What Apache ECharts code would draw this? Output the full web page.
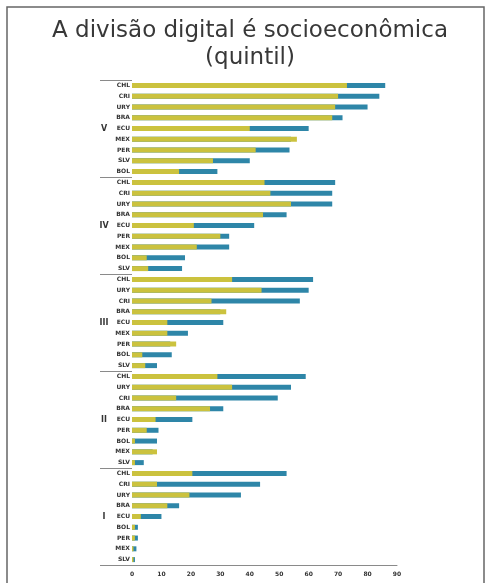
<!DOCTYPE html>
<html>
<head>
<meta charset="utf-8">
<script src="https://cdn.jsdelivr.net/npm/echarts@6/dist/echarts.min.js"></script>
<style>
  html, body { margin: 0; padding: 0; background: #ffffff; }
  #chart { width: 488px; height: 583px; }
</style>
</head>
<body>
<div id="chart"></div>
<script>
// Income quintiles, richest first
const quintiles = ['V', 'IV', 'III', 'II', 'I'];

// Country codes shown for each quintile, top to bottom
const countriesV   = ['CHL', 'CRI', 'URY', 'BRA', 'ECU', 'MEX', 'PER', 'SLV', 'BOL'];
const countriesIV  = ['CHL', 'CRI', 'URY', 'BRA', 'ECU', 'PER', 'MEX', 'BOL', 'SLV'];
const countriesIII = ['CHL', 'URY', 'CRI', 'BRA', 'ECU', 'MEX', 'PER', 'BOL', 'SLV'];
const countriesII  = ['CHL', 'URY', 'CRI', 'BRA', 'ECU', 'PER', 'BOL', 'MEX', 'SLV'];
const countriesI   = ['CHL', 'CRI', 'URY', 'BRA', 'ECU', 'BOL', 'PER', 'MEX', 'SLV'];

// Share of households with internet access (%), earlier year
const earlierV   = [73, 70, 69, 68, 40, 56, 42, 27.5, 16];
const earlierIV  = [45, 47, 54, 44.5, 21, 30, 22, 5, 5.5];
const earlierIII = [34, 44, 27, 32, 12, 12, 15, 3.5, 4.5];
const earlierII  = [29, 34, 15, 26.5, 8, 5, 1, 8.5, 1];
const earlierI   = [20.5, 8.5, 19.5, 12, 3, 1, 1, 0.5, 0.5];

// Share of households with internet access (%), later year
const laterV   = [86, 84, 80, 71.5, 60, 54, 53.5, 40, 29];
const laterIV  = [69, 68, 68, 52.5, 41.5, 33, 33, 18, 17];
const laterIII = [61.5, 60, 57, 30, 31, 19, 13, 13.5, 8.5];
const laterII  = [59, 54, 49.5, 31, 20.5, 9, 8.5, 7, 4];
const laterI   = [52.5, 43.5, 37, 16, 10, 2, 2, 1.5, 1];

// Tick values on the value axis
const xTicks = [0, 10, 20, 30, 40, 50, 60, 70, 80, 90];

// Title lines
const titleLines = ['A divisão digital é socioeconômica', '(quintil)'];

const countryLabels = [].concat(countriesV, countriesIV, countriesIII, countriesII, countriesI);
const earlier = [].concat(earlierV, earlierIV, earlierIII, earlierII, earlierI);
const later = [].concat(laterV, laterIV, laterIII, laterII, laterI);

const chart = echarts.init(document.getElementById('chart'), null, { renderer: 'canvas' });

const gridLeft = 132, gridTop = 80, gridRight = 91, gridBottom = 18;

const titleStyle = {
  fontFamily: 'DejaVu Sans',
  fontSize: 23,
  fill: '#383838',
  align: 'center',
  verticalAlign: 'middle'
};

chart.setOption({
  backgroundColor: '#ffffff',
  animation: false,
  graphic: [{
    type: 'rect',
    shape: { x: 7, y: 7, width: 477, height: 590 },
    style: { fill: 'none', stroke: '#666666', lineWidth: 1.5 },
    silent: true
  }, {
    type: 'text',
    x: 250, y: 31,
    style: Object.assign({ text: titleLines[0] }, titleStyle),
    silent: true
  }, {
    type: 'text',
    x: 250, y: 58,
    style: Object.assign({ text: titleLines[1] }, titleStyle),
    silent: true
  }],
  grid: { left: gridLeft, right: gridRight, top: gridTop, bottom: gridBottom, containLabel: false },
  xAxis: {
    type: 'value',
    min: xTicks[0],
    max: xTicks[xTicks.length - 1],
    interval: 10,
    axisLine: { show: true, lineStyle: { color: '#8a8a8a', width: 1 } },
    axisTick: { show: false },
    splitLine: { show: false },
    axisLabel: { fontSize: 6, fontWeight: 'bold', color: '#333', margin: 6, fontFamily: 'DejaVu Sans' }
  },
  yAxis: [{
    type: 'category',
    inverse: true,
    data: countryLabels,
    axisLine: { show: false },
    axisTick: { show: false },
    axisLabel: { fontSize: 6, fontWeight: 'bold', color: '#333', margin: 2, fontFamily: 'DejaVu Sans', interval: 0 }
  }, {
    type: 'category',
    inverse: true,
    position: 'left',
    data: quintiles,
    axisLine: { show: false },
    axisTick: { show: true, length: 32, lineStyle: { color: '#8a8a8a', width: 1 } },
    axisLabel: { fontSize: 8, fontWeight: 'bold', color: '#333', margin: 28, align: 'center', fontFamily: 'DejaVu Sans' }
  }],
  series: [{
    name: 'later',
    type: 'bar',
    yAxisIndex: 0,
    data: later,
    barWidth: 5,
    barGap: '-100%',
    itemStyle: { color: '#2e86a8' }
  }, {
    name: 'earlier',
    type: 'bar',
    yAxisIndex: 0,
    data: earlier,
    barWidth: 5,
    barGap: '-100%',
    itemStyle: { color: '#cbc23e' }
  }]
});
</script>
</body>
</html>
